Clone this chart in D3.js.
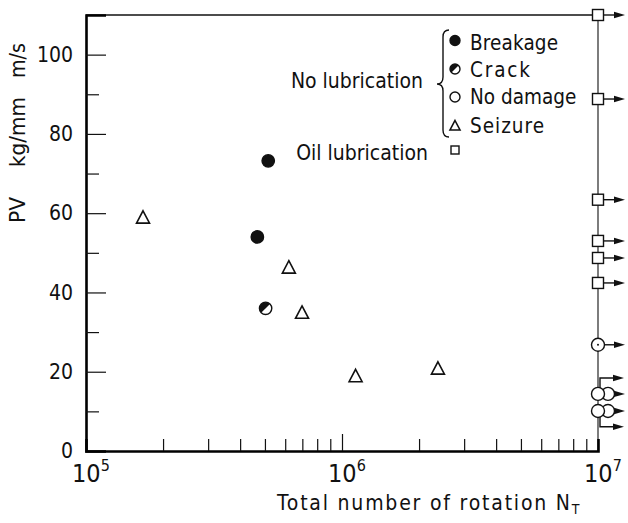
<!DOCTYPE html>
<html lang="en">
<head>
    <meta charset="UTF-8">
    <title>PV vs total number of rotation</title>
    <script src="https://cdn.jsdelivr.net/npm/d3@7/dist/d3.min.js"></script>
    <style>
        body { margin: 0; background: #fff; }
        svg { display: block; }
        text { font-family: "DejaVu Sans Condensed", "DejaVu Sans", sans-serif; font-stretch: condensed; fill: #111; }
    </style>
</head>
<body>
    <svg id="chart" width="628" height="523"></svg>

    <script>
        // data
        const seizureN = [1.67e5, 6.2e5, 6.98e5, 1.13e6, 2.37e6];
        const seizurePV = [58.8, 46.2, 34.8, 18.8, 20.7];
        const breakageN = [5.15e5, 4.67e5];
        const breakagePV = [73.2, 54.0];
        const crackN = [5.03e5];
        const crackPV = [36.0];
        // runouts at N = 1e7 (arrows)
        const runoutN = 1e7;
        const oilRunPV = [110, 88.8, 63.4, 53.0, 48.7, 42.4];
        const noDamageDotPV = [26.8];
        const noDamagePairPV = [14.4, 10.1];
        const extraArrowPV = [18.4, 6.1];   // stacked runouts branching off the pairs

        const yMajor = [0, 20, 40, 60, 80, 100];
        const yMinor = [10, 30, 50, 70, 90];
        const xMajor = [1e5, 1e6, 1e7];
        const xExp = ["5", "6", "7"];

        const svg = d3.select("#chart");
        const x = d3.scaleLog().domain([1e5, 1e7]).range([86, 598]);
        const y = d3.scaleLinear().domain([0, 110]).range([451, 15]);

        // frame: thin top and right
        svg.append("line").attr("x1", x(1e5)).attr("x2", x(1e7)).attr("y1", y(110)).attr("y2", y(110))
            .attr("stroke", "#111").attr("stroke-width", 1.4);
        svg.append("line").attr("x1", x(1e7)).attr("x2", x(1e7)).attr("y1", y(110)).attr("y2", y(0))
            .attr("stroke", "#111").attr("stroke-width", 1.1);

        // y axis, ticks pointing inward
        const yAxis = svg.append("g").attr("transform", `translate(${x(1e5)},0)`)
            .call(d3.axisLeft(y).tickValues(yMajor).tickSize(-20).tickPadding(13).tickFormat(d3.format("d")));
        svg.append("g").attr("transform", `translate(${x(1e5)},0)`)
            .call(d3.axisLeft(y).tickValues(yMinor).tickSize(-13).tickFormat(""))
            .select(".domain").remove();
        yAxis.select(".domain").attr("stroke-width", 2.6);
        yAxis.selectAll("text").attr("font-size", 21).attr("font-family", null).attr("fill", "#111");
        svg.selectAll(".tick line").attr("stroke", "#111").attr("stroke-width", 1.2);

        // x axis, ticks pointing inward
        const minorX = x.ticks().filter(d => !xMajor.includes(d));
        const xAxis = svg.append("g").attr("transform", `translate(0,${y(0)})`)
            .call(d3.axisBottom(x).tickValues(minorX).tickSize(-12).tickFormat(""));
        xAxis.select(".domain").attr("stroke-width", 2.6);
        xAxis.selectAll(".tick line").attr("stroke", "#111").attr("stroke-width", 1.2);
        svg.append("g").attr("transform", `translate(0,${y(0)})`)
            .call(d3.axisBottom(x).tickValues([1e6]).tickSize(-17).tickFormat(""))
            .call(g => g.select(".domain").remove())
            .selectAll(".tick line").attr("stroke", "#111").attr("stroke-width", 1.2);

        const xl = svg.append("g").selectAll("text").data(xMajor).join("text")
            .attr("x", d => x(d) - 14).attr("y", 482).attr("font-size", 25);
        xl.append("tspan").text("10");
        xl.append("tspan").text((d, i) => xExp[i]).attr("font-size", 16).attr("dy", -11);

        // axis titles
        const xt = svg.append("text").attr("x", 277).attr("y", 510).attr("font-size", 21);
        xt.append("tspan").text("Total number of rotation N").attr("textLength", 293).attr("lengthAdjust", "spacing");
        xt.append("tspan").text("T").attr("font-size", 14).attr("dy", 4);
        const yWords = ["m/s", "kg/mm", "PV"];
        const yWordSpan = [[43, 78], [97, 167], [197, 223]];
        svg.append("g").selectAll("text").data(yWords).join("text")
            .attr("transform", (d, i) => `translate(25,${(yWordSpan[i][0] + yWordSpan[i][1]) / 2}) rotate(-90)`)
            .attr("text-anchor", "middle").attr("font-size", 21)
            .attr("textLength", (d, i) => yWordSpan[i][1] - yWordSpan[i][0]).attr("lengthAdjust", "spacingAndGlyphs")
            .text(d => d);

        // marker helpers
        const tri = (g, cx, cy, s) => g.append("path")
            .attr("d", `M${cx},${cy - s * 0.55}L${cx + s / 2},${cy + s * 0.4}L${cx - s / 2},${cy + s * 0.4}Z`)
            .attr("fill", "#fff").attr("stroke", "#111").attr("stroke-width", 1.6);
        const dot = (g, cx, cy, r, fill) => g.append("circle").attr("cx", cx).attr("cy", cy).attr("r", r)
            .attr("fill", fill).attr("stroke", "#111").attr("stroke-width", 1.4);
        const crack = (g, cx, cy, r) => {
            dot(g, cx, cy, r, "#fff");
            const a = r * 0.707;
            g.append("path").attr("d", `M${cx - a},${cy + a}A${r},${r} 0 0 1 ${cx + a},${cy - a}Z`).attr("fill", "#111");
        };
        const square = (g, cx, cy, s) => g.append("rect")
            .attr("x", cx - s / 2).attr("y", cy - s / 2).attr("width", s).attr("height", s)
            .attr("fill", "#fff").attr("stroke", "#111").attr("stroke-width", 1.4);
        const arrow = (g, x0, yy, tip) => {
            g.append("line").attr("x1", x0).attr("x2", tip - 6).attr("y1", yy).attr("y2", yy)
                .attr("stroke", "#111").attr("stroke-width", 1.4);
            g.append("path").attr("d", `M${tip},${yy}L${tip - 11},${yy - 3.2}L${tip - 11},${yy + 3.2}Z`).attr("fill", "#111");
        };

        const pts = svg.append("g");
        seizureN.forEach((n, i) => tri(pts, x(n), y(seizurePV[i]), 13));
        breakageN.forEach((n, i) => dot(pts, x(n), y(breakagePV[i]), 6.2, "#111"));
        crackN.forEach((n, i) => crack(pts, x(n), y(crackPV[i]), 6.2));

        // runouts
        const xr = x(runoutN), tip = xr + 27;
        oilRunPV.forEach(v => { arrow(pts, xr + 5.5, y(v), tip); square(pts, xr, y(v), 11); });
        noDamageDotPV.forEach(v => {
            arrow(pts, xr + 6.5, y(v), tip);
            dot(pts, xr, y(v), 6.5, "#fff");
            pts.append("circle").attr("cx", xr).attr("cy", y(v)).attr("r", 1).attr("fill", "#111");
        });
        // elbow arrows leaving the stacked pairs
        extraArrowPV.forEach(v => {
            const near = noDamagePairPV.reduce((a, b) => Math.abs(b - v) < Math.abs(a - v) ? b : a);
            pts.append("path").attr("d", `M${xr + 2},${y(near)}V${y(v)}H${tip - 6}`)
                .attr("fill", "none").attr("stroke", "#111").attr("stroke-width", 1.4);
            arrow(pts, tip - 7, y(v), tip - 1);
        });
        noDamagePairPV.forEach(v => {
            arrow(pts, xr + 16, y(v), tip);
            dot(pts, xr + 10, y(v), 6.5, "#fff");
            dot(pts, xr, y(v), 6.5, "#fff");
        });

        // legend
        const lg = svg.append("g");
        const legX = 455, legTx = 470;
        const legRows = ["Breakage", "Crack", "No damage", "Seizure"];
        const legW = [88, 60, null, 74];
        const legY = [40.5, 69, 97, 126];
        const legBase = [50, 77, 104, 133];
        dot(lg, legX, legY[0], 5, "#111");
        crack(lg, legX, legY[1], 5);
        dot(lg, legX, legY[2], 5, "#fff");
        tri(lg, legX, legY[3], 10);
        lg.selectAll("text.row").data(legRows).join("text").attr("class", "row")
            .attr("x", legTx).attr("y", (d, i) => legBase[i]).attr("font-size", 20.5)
            .attr("textLength", (d, i) => legW[i]).attr("lengthAdjust", "spacing").text(d => d);
        lg.append("path").attr("d", "M449,30Q443,30 443,37L443,77Q443,84 437,84Q443,84 443,91L443,130Q443,137 449,137")
            .attr("fill", "none").attr("stroke", "#111").attr("stroke-width", 1.4);
        lg.append("text").attr("x", 423).attr("y", 88).attr("text-anchor", "end").attr("font-size", 21).text("No lubrication");
        lg.append("text").attr("x", 428).attr("y", 160).attr("text-anchor", "end").attr("font-size", 21).text("Oil lubrication");
        square(lg, legX, 150, 8);
    </script>
</body>
</html>
